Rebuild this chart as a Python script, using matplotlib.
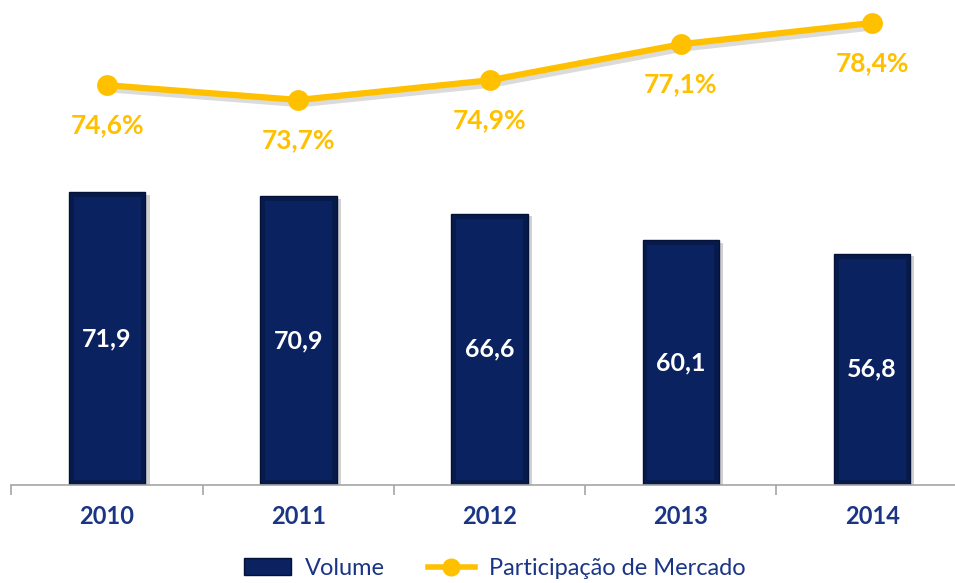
import matplotlib.pyplot as plt
import matplotlib.patheffects as pe
from matplotlib.lines import Line2D
from matplotlib.patches import Patch

years = ['2010', '2011', '2012', '2013', '2014']
volume = [71.9, 70.9, 66.6, 60.1, 56.8]
market_share = [74.6, 73.7, 74.9, 77.1, 78.4]
volume_labels = ['71,9', '70,9', '66,6', '60,1', '56,8']
share_labels = ['74,6%', '73,7%', '74,9%', '77,1%', '78,4%']

navy = '#0b2260'
gold = '#ffc000'
text_navy = '#1b3585'

plt.rcParams['font.family'] = ['Lato', 'DejaVu Sans']

fig = plt.figure(figsize=(9.55, 5.83), dpi=100)
ax = fig.add_axes([0.012, 0.168, 1.0013, 0.832])
x = list(range(len(years)))

ax.bar(x, volume, width=0.4, color='#071a4c', edgecolor='#051238', linewidth=1.0,
       path_effects=[pe.SimplePatchShadow(offset=(3, -2), shadow_rgbFace='#999999', alpha=0.45),
                     pe.Normal()])
# inner face for the bevel look
ax.bar(x, [v - 2.6 for v in volume], bottom=1.3, width=0.35, color=navy, linewidth=0)

for xi, v, lab in zip(x, volume, volume_labels):
    ax.text(xi, v / 2, lab, ha='center', va='center', color='white',
            fontsize=18, fontweight='bold')

ax.set_xlim(-0.5, 4.5)
ax.set_ylim(0, 119)
for s in ['top', 'right', 'left']:
    ax.spines[s].set_visible(False)
ax.spines['bottom'].set_color('#a6a6a6')
ax.spines['bottom'].set_linewidth(1.2)
ax.set_yticks([])
ax.set_xticks(x)
ax.set_xticklabels(years, fontsize=17, fontweight='bold', color=text_navy)
ax.tick_params(axis='x', which='major', length=0, pad=14)
ax.set_xticks([i - 0.5 for i in range(len(years) + 1)], minor=True)
ax.tick_params(axis='x', which='minor', length=7, color='#a6a6a6', width=1.2)

ax2 = ax.twinx()
ax2.set_ylim(50.2, 79.8)
ax2.axis('off')
ax2.plot(x, market_share, color=gold, linewidth=4.5, solid_capstyle='round',
         path_effects=[pe.SimpleLineShadow(offset=(2, -3), shadow_color='#888888', alpha=0.3),
                       pe.Normal()])
ax2.plot(x, market_share, linestyle='none', marker='o', markersize=15,
         color=gold, markeredgewidth=0)
for xi, v, lab in zip(x, market_share, share_labels):
    ax2.annotate(lab, (xi, v), xytext=(0, -29), textcoords='offset points',
                 ha='center', va='center', color=gold, fontsize=19, fontweight='bold')

handles = [Patch(facecolor=navy, edgecolor='#051238', label='Volume'),
           Line2D([], [], color=gold, linewidth=4, marker='o', markersize=12,
                  label='Participação de Mercado')]
fig.legend(handles=handles, loc='center', bbox_to_anchor=(0.518, 0.025), ncol=2,
           frameon=False, fontsize=17, labelcolor=text_navy, handlelength=2.0,
           handleheight=0.7, columnspacing=1.8, handletextpad=0.6)

fig.savefig('out.png', dpi=100)
